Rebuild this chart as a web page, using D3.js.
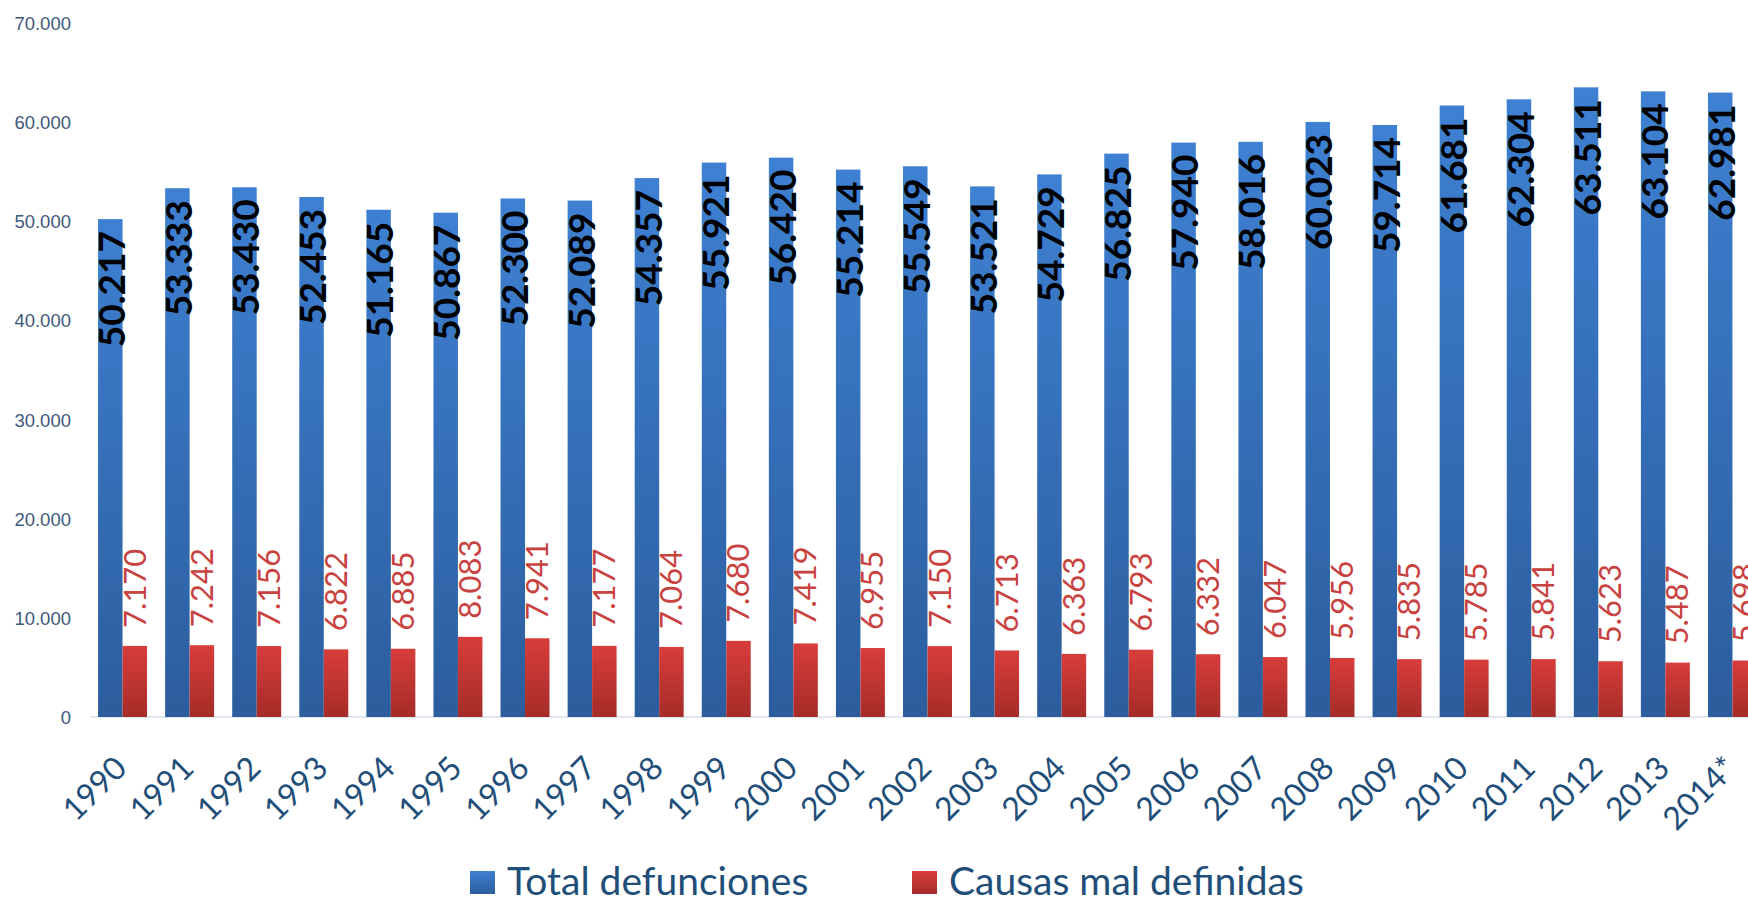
<!DOCTYPE html>
<html>
<head>
<meta charset="utf-8">
<script src="https://cdn.jsdelivr.net/npm/d3@7"></script>
<style>
  body { margin: 0; background: #fff; }
  svg { display: block; font-family: Lato, "Open Sans", sans-serif; }
</style>
</head>
<body>
<svg id="chart"></svg>
<script>
// years and series values
var years = ["1990", "1991", "1992", "1993", "1994", "1995", "1996", "1997", "1998", "1999",
    "2000", "2001", "2002", "2003", "2004", "2005", "2006", "2007", "2008", "2009",
    "2010", "2011", "2012", "2013", "2014*"];
var total = [50217, 53333, 53430, 52453, 51165, 50867, 52300, 52089, 54357, 55921,
    56420, 55214, 55549, 53521, 54729, 56825, 57940, 58016, 60023, 59714,
    61681, 62304, 63511, 63104, 62981];
var malDefinidas = [7170, 7242, 7156, 6822, 6885, 8083, 7941, 7177, 7064, 7680,
    7419, 6955, 7150, 6713, 6363, 6793, 6332, 6047, 5956, 5835,
    5785, 5841, 5623, 5487, 5698];
var yTicks = [0, 10000, 20000, 30000, 40000, 50000, 60000, 70000];
var seriesNames = ["Total defunciones", "Causas mal definidas"];

var width = 1748, height = 904;

var es = d3.formatLocale({ decimal: ",", thousands: ".", grouping: [3], currency: ["", ""] });
var fmt = es.format(",d");

var svg = d3.select("#chart")
    .attr("width", width)
    .attr("height", height)
    .style("overflow", "hidden");

var defs = svg.append("defs");
var gBlue = defs.append("linearGradient").attr("id", "gBlue")
    .attr("x1", 0).attr("y1", 0).attr("x2", 0).attr("y2", 1);
gBlue.append("stop").attr("offset", "0%").attr("stop-color", "#3e80d2");
gBlue.append("stop").attr("offset", "100%").attr("stop-color", "#2c5d9d");
var gRed = defs.append("linearGradient").attr("id", "gRed")
    .attr("x1", 0).attr("y1", 0).attr("x2", 0).attr("y2", 1);
gRed.append("stop").attr("offset", "0%").attr("stop-color", "#d83d3b");
gRed.append("stop").attr("offset", "100%").attr("stop-color", "#a52c29");

// scales
var y = d3.scaleLinear()
    .domain([0, 70000])
    .range([717, 23]);

var x0 = d3.scaleBand()
    .domain(years)
    .range([89, 89 + 25 * 67.08])
    .paddingInner(0.27)
    .paddingOuter(0.135);

var x1 = d3.scaleBand()
    .domain([0, 1])
    .range([0, x0.bandwidth()]);

// y axis (labels only)
var yAxis = d3.axisLeft(y)
    .tickValues(yTicks)
    .tickFormat(fmt)
    .tickSize(0)
    .tickPadding(0);

var ya = svg.append("g")
    .attr("transform", "translate(71,0)")
    .call(yAxis);
ya.select(".domain").remove();
ya.selectAll("text")
    .attr("fill", "#40587c")
    .style("font-size", "18.5px")
    .attr("dy", "0.35em");

// baseline
svg.append("line")
    .attr("x1", 90).attr("x2", width)
    .attr("y1", y(0)).attr("y2", y(0))
    .attr("stroke", "#d5dfec")
    .attr("stroke-width", 1.5);

var groups = svg.selectAll("g.year")
    .data(years)
    .join("g")
    .attr("class", "year")
    .attr("transform", d => "translate(" + x0(d) + ",0)");

groups.append("rect")
    .attr("x", x1(0))
    .attr("width", x1.bandwidth())
    .attr("y", (d, i) => y(total[i]))
    .attr("height", (d, i) => y(0) - y(total[i]))
    .attr("fill", "url(#gBlue)");

groups.append("rect")
    .attr("x", x1(1))
    .attr("width", x1.bandwidth())
    .attr("y", (d, i) => y(malDefinidas[i]))
    .attr("height", (d, i) => y(0) - y(malDefinidas[i]))
    .attr("fill", "url(#gRed)");

// labels on blue bars (inside end)
groups.append("text")
    .attr("transform", (d, i) => "translate(" + (x1(0) + 27) + "," + (y(total[i]) + 12) + ") rotate(-90)")
    .attr("text-anchor", "end")
    .attr("fill", "#000")
    .style("font-size", "37px")
    .style("font-weight", "bold")
    .text((d, i) => fmt(total[i]));

// labels on red bars (outside end)
groups.append("text")
    .attr("transform", (d, i) => "translate(" + (x1(1) + 23) + "," + (y(malDefinidas[i]) - 18) + ") rotate(-90)")
    .attr("text-anchor", "start")
    .attr("fill", "#c8423f")
    .style("font-size", "31px")
    .text((d, i) => fmt(malDefinidas[i]));

// x axis labels
groups.append("text")
    .attr("transform", "translate(" + (x0.bandwidth() / 2 + 6) + ",770) rotate(-45)")
    .attr("text-anchor", "end")
    .attr("fill", "#1f4e79")
    .style("font-size", "32px")
    .text(d => d);

// legend
var legend = svg.append("g");
var legendX = [470, 912];
var legendFill = ["url(#gBlue)", "url(#gRed)"];
seriesNames.forEach(function (name, i) {
    var lg = legend.append("g").attr("transform", "translate(" + legendX[i] + ",871)");
    lg.append("rect")
        .attr("width", 25).attr("height", 23)
        .attr("fill", legendFill[i]);
    lg.append("text")
        .attr("x", 37).attr("y", 24)
        .attr("fill", "#1f4e79")
        .style("font-size", "39px")
        .text(name);
});
</script>
</body>
</html>
